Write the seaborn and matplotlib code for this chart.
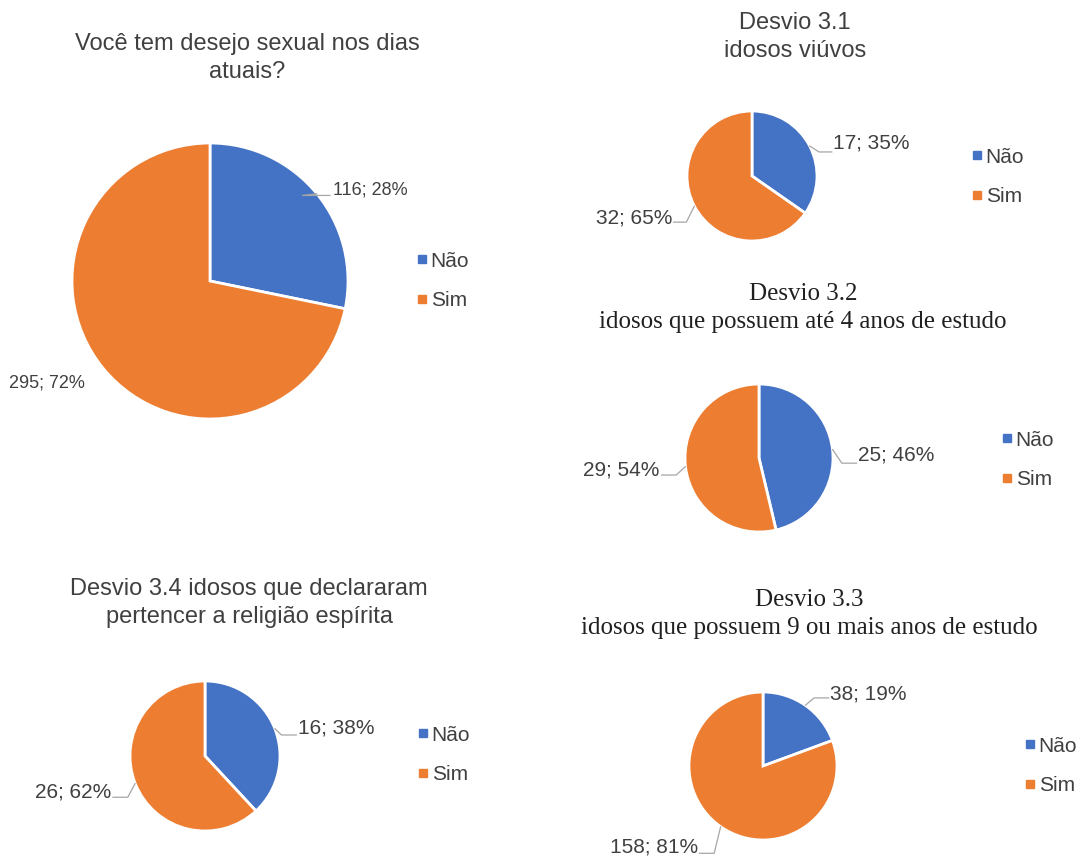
import numpy as np
import matplotlib
matplotlib.use('Agg')
import matplotlib.pyplot as plt
from matplotlib.lines import Line2D
import seaborn as sns

# Dados
categorias = ['Não', 'Sim']
desejo_atual = [116, 295]
desvio_31 = [17, 32]
desvio_32 = [25, 29]
desvio_33 = [38, 158]
desvio_34 = [16, 26]

titulo_geral = 'Você tem desejo sexual nos dias\natuais?'
titulo_31 = 'Desvio 3.1\nidosos viúvos'
titulo_32 = 'Desvio 3.2\nidosos que possuem até 4 anos de estudo'
titulo_33 = 'Desvio 3.3\nidosos que possuem 9 ou mais anos de estudo'
titulo_34 = 'Desvio 3.4 idosos que declararam\npertencer a religião espírita'

sns.set_theme(style='white')
plt.rcParams['font.family'] = ['Liberation Sans', 'DejaVu Sans']
cores = ['#4472C4', '#ED7D31']
texto = '#404040'
linha = '#A6A6A6'

W, H = 1088, 856
fig = plt.figure(figsize=(W / 100, H / 100), dpi=100)


def fx(x):
    return x / W


def fy(y):
    return 1 - y / H


# layout em pixels: centro, raio, título, legenda, rótulos (tx, ty, ly, ha, com linha)
paineis = [
    dict(vals=desejo_atual, titulo=titulo_geral, serif=False, c=(210, 281), r=138,
         tpos=(247, 58), leg=(416, 281), fs_lab=13,
         labs=[(0.89, 0.66, 0.62, 'left', True), (-0.91, -0.74, -0.74, 'right', False)]),
    dict(vals=desvio_31, titulo=titulo_31, serif=False, c=(752, 176), r=65,
         tpos=(795, 37), leg=(971, 177), fs_lab=15,
         labs=[(1.25, 0.51, 0.37, 'left', True), (-1.23, -0.65, -0.71, 'right', True)]),
    dict(vals=desvio_32, titulo=titulo_32, serif=True, c=(759, 458), r=74,
         tpos=(803, 308), leg=(1001, 460), fs_lab=15,
         labs=[(1.34, 0.04, -0.07, 'left', True), (-1.34, -0.16, -0.23, 'right', True)]),
    dict(vals=desvio_34, titulo=titulo_34, serif=False, c=(205, 756), r=75,
         tpos=(249, 603), leg=(417, 755), fs_lab=15,
         labs=[(1.24, 0.37, 0.28, 'left', True), (-1.25, -0.48, -0.55, 'right', True)]),
    dict(vals=desvio_33, titulo=titulo_33, serif=True, c=(763, 766), r=74,
         tpos=(809, 614), leg=(1024, 766), fs_lab=15,
         labs=[(0.91, 0.97, 0.92, 'left', True), (-0.88, -1.09, -1.18, 'right', True)]),
]

for p in paineis:
    cx, cy = p['c']
    r = p['r']
    ax = fig.add_axes([fx(cx - r), fy(cy + r), 2 * r / W, 2 * r / H])
    wedges, _ = ax.pie(p['vals'], colors=cores, startangle=90, counterclock=False,
                       wedgeprops=dict(edgecolor='white', linewidth=2))
    ax.set_xlim(-1, 1)
    ax.set_ylim(-1, 1)
    ax.set_aspect('equal')
    ax.axis('off')

    total = sum(p['vals'])
    for w, v, (tx, ty, ly, ha, com_linha) in zip(wedges, p['vals'], p['labs']):
        ang = np.deg2rad((w.theta1 + w.theta2) / 2)
        ex, ey = np.cos(ang), np.sin(ang)
        s = 1 if ha == 'left' else -1
        ax.text(tx, ty, f'{v}; {round(100 * v / total)}%', ha=ha, va='center',
                fontsize=p['fs_lab'], color=texto, clip_on=False)
        if com_linha:
            ax.plot([ex, tx - s * 0.22, tx - s * 0.02], [ey, ly, ly],
                    color=linha, lw=0.9, clip_on=False)

    if p['serif']:
        fig.text(fx(p['tpos'][0]), fy(p['tpos'][1]), p['titulo'], ha='center', va='center',
                 fontsize=18, color='#202020', family=['Liberation Serif', 'DejaVu Serif'],
                 linespacing=1.4)
    else:
        fig.text(fx(p['tpos'][0]), fy(p['tpos'][1]), p['titulo'], ha='center', va='center',
                 fontsize=17, color=texto, linespacing=1.4)

    handles = [Line2D([0], [0], marker='s', ls='', color=c, markersize=5.5) for c in cores]
    fig.legend(handles, categorias, loc='center left',
               bbox_to_anchor=(fx(p['leg'][0]), fy(p['leg'][1])),
               frameon=False, fontsize=15, labelcolor=texto, handletextpad=0.1,
               handlelength=0.6, labelspacing=1.0, borderpad=0, borderaxespad=0)

fig.savefig('out.png', dpi=100)
